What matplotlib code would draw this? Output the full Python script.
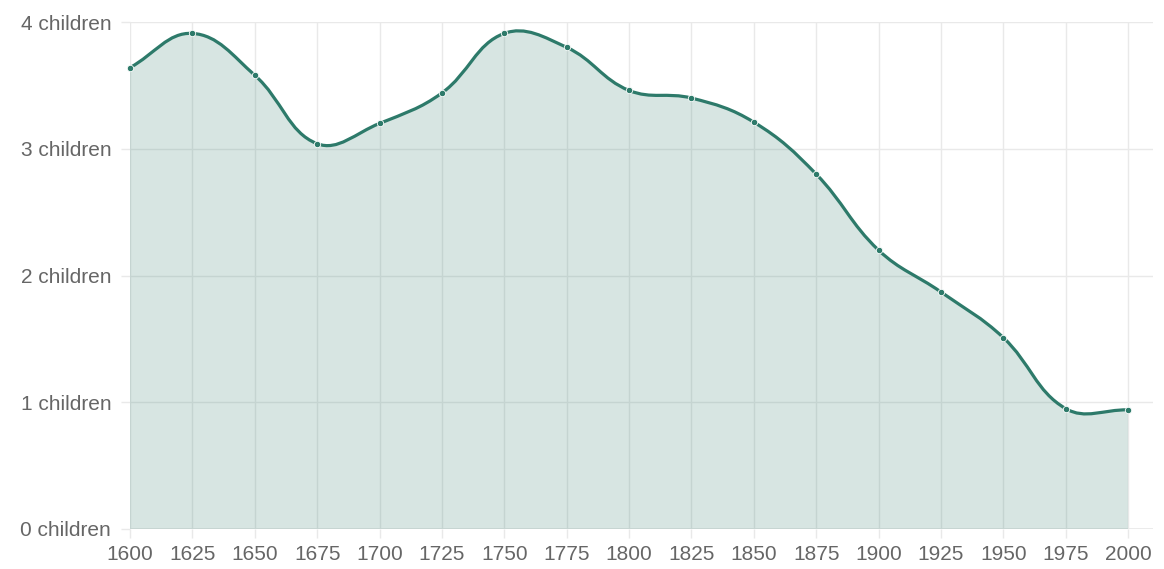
import matplotlib.pyplot as plt
import numpy as np
from matplotlib.path import Path
from matplotlib.patches import PathPatch

# data
years = [1600, 1625, 1650, 1675, 1700, 1725, 1750, 1775, 1800,
         1825, 1850, 1875, 1900, 1925, 1950, 1975, 2000]
children = [3.64, 3.91, 3.58, 3.04, 3.20, 3.44, 3.91, 3.80, 3.46,
            3.40, 3.21, 2.80, 2.20, 1.87, 1.51, 0.95, 0.94]
y_ticks = [0, 1, 2, 3, 4]
y_labels = ["%d children" % v for v in y_ticks]

line_col = "#2d7a6a"
grid_col = "#e9e9e9"
text_col = "#666666"

plt.rcParams["font.family"] = ["Liberation Sans", "DejaVu Sans"]

fig = plt.figure(figsize=(11.64, 5.69), dpi=100)
ax = fig.add_axes([130 / 1164, 1 - 529 / 569, (1153 - 130) / 1164, (529 - 22) / 569])
ax.set_xlim(1600, 2010)
ax.set_ylim(0, 4)

# tension-style smoothing done in display space, like the original renderer
pts = ax.transData.transform(np.column_stack([years, children]))
t = 0.4
verts = [pts[0]]
codes = [Path.MOVETO]
n = len(pts)
cps = []
for i in range(n):
    prev = pts[max(i - 1, 0)]
    cur = pts[i]
    nxt = pts[min(i + 1, n - 1)]
    d01 = np.hypot(*(cur - prev))
    d12 = np.hypot(*(nxt - cur))
    tot = d01 + d12
    s01 = d01 / tot if tot else 0
    s12 = d12 / tot if tot else 0
    cps.append((cur - t * s01 * (nxt - prev), cur + t * s12 * (nxt - prev)))
for i in range(1, n):
    verts += [cps[i - 1][1], cps[i][0], pts[i]]
    codes += [Path.CURVE4] * 3
inv = ax.transData.inverted()
verts = inv.transform(np.array(verts))
line_path = Path(verts, codes)

fill_verts = list(verts) + [(years[-1], 0), (years[0], 0), verts[0]]
fill_codes = list(codes) + [Path.LINETO, Path.LINETO, Path.CLOSEPOLY]
ax.add_patch(PathPatch(Path(fill_verts, fill_codes), facecolor=line_col,
                       alpha=0.19, edgecolor="none", zorder=2))
ax.add_patch(PathPatch(line_path, facecolor="none", edgecolor=line_col,
                       lw=2.3, zorder=3, clip_on=False))
ax.plot(years, children, "o", ms=4.6, mfc=line_col, mec="white", mew=0.6,
        zorder=4, clip_on=False)

ax.set_xticks(years)
ax.set_xticklabels([str(y) for y in years])
ax.set_yticks(y_ticks)
ax.set_yticklabels(y_labels)
ax.grid(True, color=grid_col, lw=1)
ax.set_axisbelow(True)
for s in ax.spines.values():
    s.set_visible(False)
ax.tick_params(colors=grid_col, labelcolor=text_col, labelsize=15,
               length=6.5, width=1)
ax.tick_params(axis="y", pad=7)
ax.tick_params(axis="x", pad=5)
ax.axhline(0, color=grid_col, lw=1.2, zorder=1)

fig.savefig("out.png", dpi=100)
